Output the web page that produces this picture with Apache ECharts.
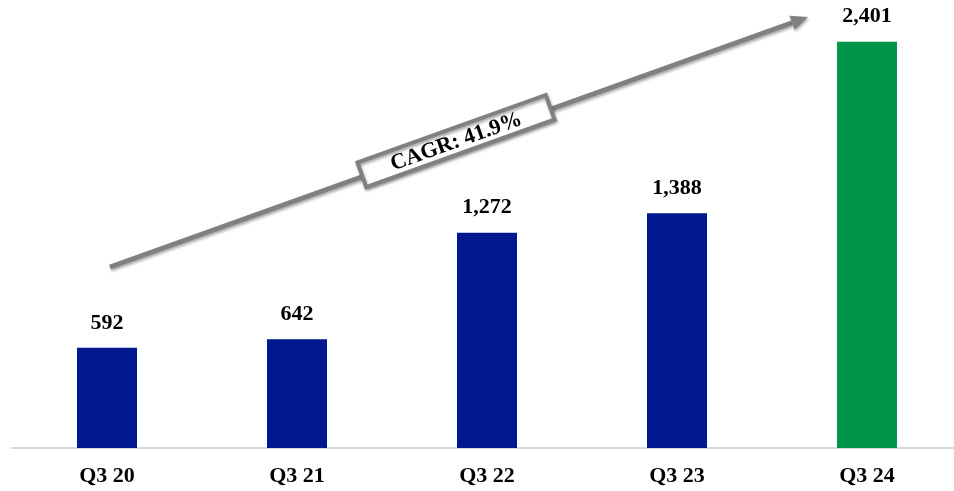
<!DOCTYPE html>
<html>
<head>
<meta charset="utf-8">
<script src="https://cdn.jsdelivr.net/npm/echarts@6/dist/echarts.min.js"></script>
<style>
  html, body { margin: 0; padding: 0; background: #fff; }
  #chart { width: 954px; height: 491px; }
</style>
</head>
<body>
<div id="chart"></div>
<script>
// Quarterly values
const categories = ['Q3 20', 'Q3 21', 'Q3 22', 'Q3 23', 'Q3 24'];
const values = [592, 642, 1272, 1388, 2401];
const barColors = ['#00188F', '#00188F', '#00188F', '#00188F', '#00964A'];
const cagrText = 'CAGR: 41.9%';

const serif = '"Liberation Serif", "DejaVu Serif", serif';

const chart = echarts.init(document.getElementById('chart'), null, { renderer: 'canvas' });

// Growth arrow geometry (annotation, in pixels)
const start = [110, 267];
const tip = [808, 17];
const dx = tip[0] - start[0], dy = tip[1] - start[1];
const len = Math.sqrt(dx * dx + dy * dy);
const ux = dx / len, uy = dy / len;
const nx = -uy, ny = ux;
const headLen = 17, headHalf = 7.5;
const base = [tip[0] - ux * headLen, tip[1] - uy * headLen];
const angle = Math.atan2(-dy, dx);
const boxCenter = [456, 141];
const shadow = { shadowBlur: 3, shadowOffsetX: 1, shadowOffsetY: 2, shadowColor: 'rgba(0,0,0,0.35)' };

chart.setOption({
  animation: false,
  grid: { left: 12, width: 950, top: 25, bottom: 43, containLabel: false, outerBoundsMode: 'none' },
  xAxis: {
    type: 'category',
    data: categories,
    axisLine: { show: true, lineStyle: { color: '#d9d9d9', width: 2 } },
    axisTick: { show: false },
    axisLabel: {
      color: '#000', fontFamily: serif, fontWeight: 'bold', fontSize: 22, margin: 17
    }
  },
  yAxis: {
    type: 'value', min: 0, max: 2500,
    show: false, splitLine: { show: false }
  },
  series: [{
    type: 'bar',
    barWidth: 60,
    data: values.map((v, i) => ({ value: v, itemStyle: { color: barColors[i] } })),
    label: {
      show: true, position: 'top', distance: 14,
      color: '#000', fontFamily: serif, fontWeight: 'bold', fontSize: 22,
      formatter: p => p.value.toLocaleString('en-US')
    }
  }],
  graphic: [
    {
      type: 'line', z: 10,
      shape: { x1: start[0], y1: start[1], x2: base[0], y2: base[1] },
      style: Object.assign({ stroke: '#808080', lineWidth: 5 }, shadow)
    },
    {
      type: 'polygon', z: 10,
      shape: { points: [
        [tip[0], tip[1]],
        [base[0] + nx * headHalf, base[1] + ny * headHalf],
        [base[0] - nx * headHalf, base[1] - ny * headHalf]
      ] },
      style: Object.assign({ fill: '#808080' }, shadow)
    },
    {
      type: 'group',
      x: boxCenter[0], y: boxCenter[1], rotation: angle,
      children: [
        {
          type: 'rect', z: 20,
          shape: { x: -100, y: -13, width: 200, height: 26 },
          style: Object.assign({ fill: '#ffffff', stroke: '#808080', lineWidth: 4 }, shadow)
        },
        {
          type: 'text', z: 21,
          style: {
            x: 0, y: 1, text: cagrText, align: 'center', verticalAlign: 'middle',
            fill: '#000', font: 'bold 22px ' + serif
          }
        }
      ]
    }
  ]
});
</script>
</body>
</html>
